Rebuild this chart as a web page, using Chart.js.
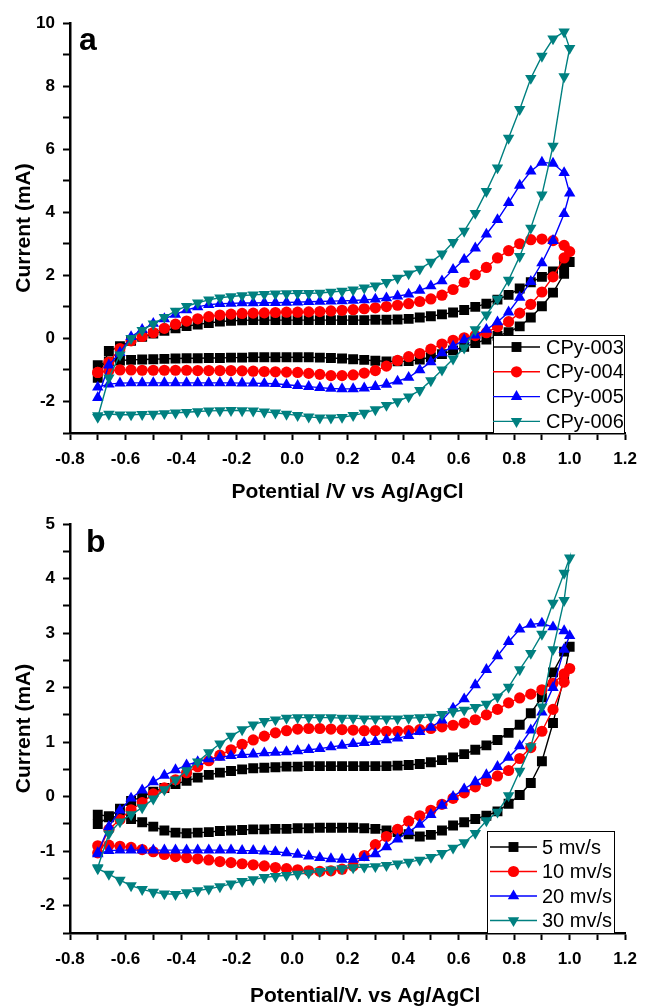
<!DOCTYPE html>
<html>
<head>
<meta charset="utf-8">
<script src="https://cdn.jsdelivr.net/npm/chart.js@4.4.0/dist/chart.umd.min.js"></script>
<style>
  body { margin: 0; background: #fff; }
  canvas { display: block; }
</style>
</head>
<body>
<canvas id="chartA" width="646" height="503"></canvas>
<canvas id="chartB" width="646" height="504"></canvas>
<script>
// potential grid (V) of the sweep, forward sweep uses all, reverse sweep 0.98 -> -0.70
const potential = [-0.70,-0.66,-0.62,-0.58,-0.54,-0.50,-0.46,-0.42,-0.38,-0.34,-0.30,-0.26,-0.22,-0.18,-0.14,-0.10,-0.06,-0.02,
  0.02,0.06,0.10,0.14,0.18,0.22,0.26,0.30,0.34,0.38,0.42,0.46,0.50,0.54,0.58,0.62,0.66,0.70,0.74,0.78,0.82,0.86,0.90,0.94,0.98,1.00];

// panel a - samples
const namesA = ['CPy-003', 'CPy-004', 'CPy-005', 'CPy-006'];
const fwd003 = [-1.25,-0.40,-0.25,-0.08,0.05,0.15,0.24,0.32,0.39,0.44,0.49,0.53,0.56,0.57,0.58,0.58,0.58,0.58,0.58,0.58,0.58,0.58,0.58,0.58,0.58,0.59,0.59,0.60,0.62,0.66,0.70,0.76,0.82,0.90,1.00,1.10,1.23,1.38,1.58,1.78,1.95,2.12,2.33,2.42];
const rev003 = [2.05,1.45,1.02,0.66,0.38,0.20,0.08,-0.04,-0.15,-0.27,-0.38,-0.50,-0.60,-0.67,-0.72,-0.73,-0.73,-0.71,-0.68,-0.66,-0.64,-0.62,-0.61,-0.60,-0.60,-0.60,-0.60,-0.60,-0.60,-0.61,-0.61,-0.62,-0.62,-0.63,-0.63,-0.64,-0.65,-0.66,-0.67,-0.68,-0.70,-0.73,-0.85];
const fwd004 = [-1.08,-0.75,-0.32,-0.08,0.06,0.18,0.32,0.45,0.55,0.62,0.69,0.74,0.77,0.79,0.80,0.81,0.82,0.83,0.83,0.84,0.85,0.87,0.89,0.91,0.94,0.97,1.01,1.05,1.10,1.17,1.25,1.37,1.55,1.78,2.02,2.25,2.55,2.78,3.00,3.13,3.15,3.10,2.95,2.75];
const rev004 = [2.55,1.95,1.47,1.08,0.80,0.53,0.37,0.18,0.09,0.02,-0.06,-0.18,-0.34,-0.48,-0.58,-0.70,-0.88,-1.02,-1.10,-1.16,-1.18,-1.18,-1.14,-1.11,-1.08,-1.07,-1.06,-1.05,-1.04,-1.03,-1.02,-1.02,-1.02,-1.02,-1.01,-1.01,-1.01,-1.01,-1.01,-1.00,-1.00,-1.02,-1.08];
const fwd005 = [-1.88,-0.85,-0.45,0.05,0.28,0.47,0.62,0.76,0.90,1.00,1.07,1.10,1.11,1.12,1.12,1.13,1.13,1.14,1.15,1.16,1.17,1.18,1.19,1.20,1.22,1.24,1.28,1.34,1.40,1.52,1.66,1.82,2.18,2.50,2.86,3.30,3.76,4.30,4.85,5.30,5.58,5.55,5.25,4.60];
const rev005 = [3.95,3.10,2.39,1.80,1.30,0.83,0.52,0.28,0.10,-0.05,-0.25,-0.46,-0.75,-1.00,-1.24,-1.36,-1.46,-1.53,-1.58,-1.60,-1.60,-1.59,-1.56,-1.53,-1.50,-1.47,-1.44,-1.43,-1.42,-1.42,-1.41,-1.41,-1.41,-1.41,-1.41,-1.41,-1.41,-1.41,-1.41,-1.41,-1.42,-1.45,-1.55];
const fwd006 = [-2.50,-1.25,-0.52,0.00,0.26,0.46,0.67,0.87,1.02,1.13,1.22,1.29,1.33,1.36,1.38,1.40,1.41,1.42,1.43,1.43,1.44,1.47,1.50,1.54,1.60,1.67,1.78,1.91,2.05,2.20,2.42,2.68,3.05,3.40,3.97,4.66,5.41,6.35,7.26,8.25,8.95,9.50,9.72,9.20];
const rev006 = [8.30,6.10,4.55,3.50,2.60,1.85,1.25,0.75,0.28,-0.30,-0.65,-1.00,-1.34,-1.65,-1.85,-2.00,-2.12,-2.26,-2.37,-2.44,-2.50,-2.52,-2.52,-2.49,-2.44,-2.40,-2.36,-2.33,-2.30,-2.29,-2.28,-2.29,-2.30,-2.32,-2.34,-2.36,-2.38,-2.40,-2.41,-2.42,-2.42,-2.40,-2.45];

// panel b - scan rates
const namesB = ['5 mv/s', '10 mv/s', '20 mv/s', '30 mv/s'];
const fwd5 = [-0.50,-0.38,-0.22,-0.08,0.00,0.09,0.16,0.23,0.29,0.35,0.40,0.44,0.47,0.50,0.52,0.53,0.54,0.55,0.55,0.56,0.56,0.56,0.56,0.56,0.56,0.56,0.56,0.57,0.58,0.60,0.63,0.67,0.72,0.78,0.86,0.94,1.04,1.17,1.32,1.53,1.82,2.28,2.66,2.75];
const rev5 = [2.20,1.35,0.65,0.25,0.03,-0.13,-0.27,-0.35,-0.41,-0.47,-0.53,-0.62,-0.70,-0.73,-0.69,-0.65,-0.62,-0.59,-0.58,-0.57,-0.57,-0.57,-0.57,-0.58,-0.58,-0.59,-0.59,-0.60,-0.60,-0.61,-0.62,-0.63,-0.65,-0.66,-0.67,-0.66,-0.62,-0.55,-0.47,-0.41,-0.38,-0.36,-0.33];
const fwd10 = [-1.03,-0.60,-0.42,-0.24,-0.11,0.05,0.16,0.31,0.44,0.55,0.66,0.76,0.86,0.96,1.04,1.11,1.17,1.21,1.24,1.25,1.25,1.24,1.23,1.22,1.21,1.21,1.20,1.20,1.21,1.23,1.25,1.28,1.31,1.35,1.41,1.50,1.60,1.72,1.81,1.88,1.96,2.08,2.25,2.35];
const rev10 = [2.10,1.60,1.20,0.90,0.70,0.48,0.38,0.28,0.18,0.07,-0.03,-0.14,-0.25,-0.35,-0.45,-0.60,-0.73,-0.88,-1.08,-1.27,-1.33,-1.36,-1.37,-1.36,-1.34,-1.32,-1.30,-1.27,-1.25,-1.23,-1.21,-1.19,-1.16,-1.14,-1.12,-1.10,-1.06,-1.01,-0.97,-0.93,-0.91,-0.89,-0.90];
const fwd20 = [-1.03,-0.55,-0.25,-0.03,0.12,0.27,0.39,0.49,0.58,0.64,0.69,0.72,0.75,0.77,0.78,0.80,0.81,0.82,0.84,0.86,0.88,0.91,0.94,0.97,0.99,1.01,1.04,1.07,1.12,1.19,1.27,1.40,1.62,1.79,2.05,2.33,2.58,2.84,3.07,3.16,3.18,3.11,3.04,2.95];
const rev20 = [2.70,2.00,1.55,1.22,0.93,0.72,0.55,0.40,0.27,0.14,0.00,-0.16,-0.33,-0.51,-0.64,-0.78,-0.92,-1.05,-1.12,-1.15,-1.15,-1.14,-1.12,-1.09,-1.06,-1.03,-1.01,-1.00,-0.99,-0.99,-0.98,-0.98,-0.98,-0.98,-0.98,-0.98,-0.98,-0.98,-0.98,-0.98,-0.98,-0.99,-1.05];
const fwd30 = [-1.30,-0.68,-0.46,-0.33,-0.20,-0.04,0.13,0.31,0.48,0.64,0.81,0.97,1.11,1.23,1.32,1.38,1.41,1.44,1.45,1.45,1.45,1.45,1.44,1.44,1.43,1.43,1.43,1.43,1.44,1.45,1.46,1.51,1.56,1.59,1.64,1.70,1.83,2.01,2.33,2.63,2.98,3.55,4.10,4.38];
const rev30 = [3.60,2.70,1.65,0.92,0.47,0.02,-0.28,-0.44,-0.67,-0.84,-0.94,-1.04,-1.11,-1.16,-1.20,-1.23,-1.26,-1.28,-1.29,-1.30,-1.32,-1.34,-1.37,-1.40,-1.42,-1.44,-1.46,-1.48,-1.52,-1.55,-1.60,-1.65,-1.69,-1.72,-1.76,-1.79,-1.78,-1.75,-1.70,-1.63,-1.53,-1.42,-1.32];

const colors = ['#000000', '#ff0000', '#0000ff', '#008080'];
const markers = ['rect', 'circle', 'triangle', 'triangle'];
const markerSize = [7, 5.6, 6.6, 6.6];
const markerTurn = [0, 0, 0, 180];

const FONT = '"Liberation Sans", Arial, sans-serif';

// join forward and reverse sweep into one closed loop
function cycle(fwd, rev) {
  const pts = fwd.map((y, i) => ({x: potential[i], y: y}));
  rev.forEach((y, j) => pts.push({x: potential[rev.length - 1 - j], y: y}));
  return pts;
}

function makeSets(names, loops) {
  return loops.map((pts, i) => ({
    label: names[i],
    data: pts,
    showLine: true,
    borderColor: colors[i],
    backgroundColor: colors[i],
    borderWidth: 1.4,
    pointStyle: markers[i],
    pointRadius: markerSize[i],
    pointRotation: markerTurn[i],
    pointBorderWidth: 0,
    pointHoverRadius: markerSize[i],
    order: 3 - i
  }));
}

// legend box drawn inside the plot area (lower right corner)
const boxLegend = {
  id: 'boxLegend',
  afterDatasetsDraw(chart, args, o) {
    const ctx = chart.ctx;
    ctx.save();
    ctx.fillStyle = '#fff';
    ctx.fillRect(o.x, o.y, o.w, o.h);
    ctx.strokeStyle = '#000';
    ctx.lineWidth = 1;
    ctx.strokeRect(o.x + 0.5, o.y + 0.5, o.w, o.h);
    chart.data.datasets.forEach((ds, i) => {
      const cy = o.y + o.first + i * o.rowH;
      ctx.strokeStyle = ds.borderColor;
      ctx.lineWidth = ds.borderWidth;
      ctx.beginPath();
      ctx.moveTo(o.lineX0, cy);
      ctx.lineTo(o.lineX1, cy);
      ctx.stroke();
      ctx.fillStyle = ds.backgroundColor;
      Chart.helpers.drawPoint(ctx, {pointStyle: ds.pointStyle, radius: ds.pointRadius, rotation: ds.pointRotation, borderWidth: 0},
        (o.lineX0 + o.lineX1) / 2, cy);
      ctx.fillStyle = '#000';
      ctx.font = '20px ' + FONT;
      ctx.textBaseline = 'middle';
      ctx.textAlign = 'left';
      ctx.fillText(ds.label, o.textX, cy + 1);
    });
    ctx.restore();
  }
};

// panel letter
const panelTag = {
  id: 'panelTag',
  afterDraw(chart, args, o) {
    const ctx = chart.ctx;
    ctx.save();
    ctx.fillStyle = '#000';
    ctx.font = 'bold 32px ' + FONT;
    ctx.textBaseline = 'alphabetic';
    ctx.fillText(o.text, o.x, o.y);
    ctx.restore();
  }
};

function axisX(title, h) {
  return {
    type: 'linear', min: -0.8, max: 1.2,
    afterFit: s => { s.height = h; },
    ticks: {
      stepSize: 0.1, autoSkip: false, maxRotation: 0, padding: 9, color: '#000',
      font: {family: FONT, size: 17, weight: 'bold'},
      callback: v => Math.round(v * 10) % 2 === 0 ? v.toFixed(1) : ''
    },
    grid: {drawOnChartArea: false, drawTicks: true, tickLength: 7, tickWidth: 2, tickColor: '#000'},
    border: {display: true, color: '#000', width: 2.5},
    title: {display: true, text: title, color: '#000',
      font: {family: FONT, size: 21, weight: 'bold', lineHeight: 1}, padding: {top: 0, bottom: 0}}
  };
}

function axisY(min, max, step, keep) {
  return {
    type: 'linear', min: min, max: max,
    afterFit: s => { s.width = 70; },
    ticks: {
      stepSize: step, autoSkip: false, padding: 8, color: '#000',
      font: {family: FONT, size: 17, weight: 'bold'},
      callback: v => keep(v) ? String(v) : ''
    },
    grid: {drawOnChartArea: false, drawTicks: true, tickLength: 7, tickWidth: 2, tickColor: '#000'},
    border: {display: true, color: '#000', width: 2.5},
    title: {display: true, text: 'Current (mA)', color: '#000',
      font: {family: FONT, size: 21, weight: 'bold', lineHeight: 1}, padding: {top: 14, bottom: 0}}
  };
}

function build(id, sets, opts) {
  return new Chart(document.getElementById(id), {
    type: 'scatter',
    data: {datasets: sets},
    plugins: [boxLegend, panelTag],
    options: {
      responsive: false,
      animation: false,
      devicePixelRatio: 1,
      layout: {padding: opts.padding},
      elements: {line: {tension: 0}},
      scales: {x: opts.x, y: opts.y},
      plugins: {
        legend: {display: false},
        tooltip: {enabled: false},
        boxLegend: opts.legend,
        panelTag: opts.tag
      }
    }
  });
}

build('chartA',
  makeSets(namesA, [cycle(fwd003, rev003), cycle(fwd004, rev004), cycle(fwd005, rev005), cycle(fwd006, rev006)]),
  {
    padding: {top: 23, right: 16, left: 0, bottom: 0},
    x: axisX('Potential /V vs Ag/AgCl', 70),
    y: axisY(-3, 10, 1, v => v % 2 === 0),
    legend: {x: 493, y: 335, w: 131, h: 98, first: 12, rowH: 24.8, lineX0: 493, lineX1: 540, textX: 546},
    tag: {text: 'a', x: 79, y: 50}
  });

build('chartB',
  makeSets(namesB, [cycle(fwd5, rev5), cycle(fwd10, rev10), cycle(fwd20, rev20), cycle(fwd30, rev30)]),
  {
    padding: {top: 21, right: 18, left: 0, bottom: 0},
    x: axisX('\u00a0\u00a0\u00a0\u00a0\u00a0\u00a0Potential/V. vs Ag/AgCl', 74),
    y: axisY(-2.5, 5, 0.5, v => Number.isInteger(v)),
    legend: {x: 487, y: 328, w: 127, h: 102, first: 16, rowH: 24.5, lineX0: 490, lineX1: 537, textX: 542},
    tag: {text: 'b', x: 86, y: 49}
  });
</script>
</body>
</html>
